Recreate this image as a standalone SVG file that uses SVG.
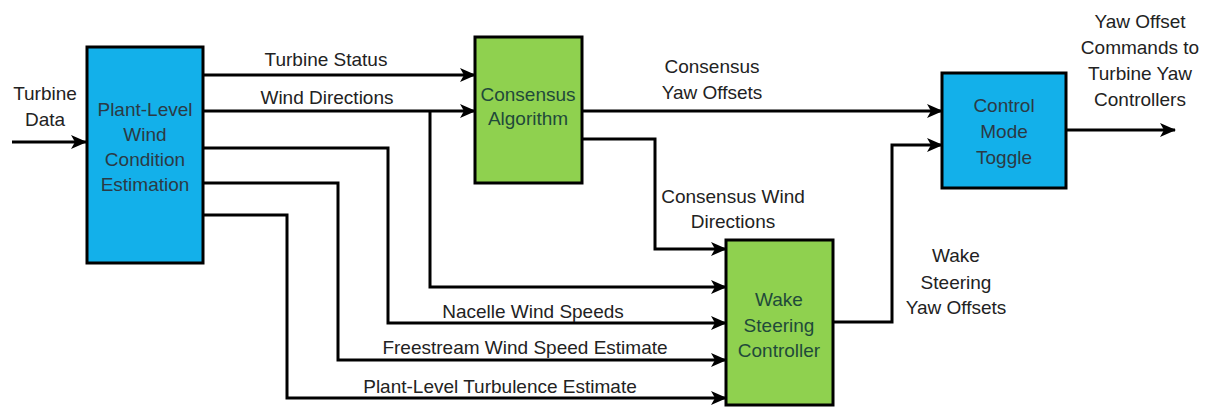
<svg xmlns="http://www.w3.org/2000/svg" width="1206" height="408" viewBox="0 0 1206 408">
<style>
.lbl{font-family:"Liberation Sans",Arial,sans-serif;font-size:19px;fill:#222;text-anchor:middle}
.nt{font-family:"Liberation Sans",Arial,sans-serif;font-size:19px;text-anchor:middle}
.blue{fill:#13b0ea;stroke:#000;stroke-width:3}
.green{fill:#8fd14f;stroke:#000;stroke-width:3}
.bt{fill:#2b3a45}
.gt{fill:#1f4a3a}
.c{fill:none;stroke:#000;stroke-width:3}
</style>
<defs>
<marker id="ah" markerUnits="userSpaceOnUse" viewBox="0 0 16 14" refX="15" refY="7" markerWidth="16" markerHeight="14" orient="auto">
<path d="M0,0 L16,7 L0,14 L4,7 z" fill="#000"/>
</marker>
</defs>
<rect width="1206" height="408" fill="#fff"/>
<g id="connectors">
<path class="c" d="M12,142 H86" marker-end="url(#ah)"/>
<path class="c" d="M203,75 H475" marker-end="url(#ah)"/>
<path class="c" d="M203,111 H475" marker-end="url(#ah)"/>
<path class="c" d="M430,111 V287 H726" marker-end="url(#ah)"/>
<path class="c" d="M203,148 H388 V323 H726" marker-end="url(#ah)"/>
<path class="c" d="M203,183 H338 V360 H726" marker-end="url(#ah)"/>
<path class="c" d="M203,215 H287 V398 H726" marker-end="url(#ah)"/>
<path class="c" d="M582,111 H942" marker-end="url(#ah)"/>
<path class="c" d="M582,139 H655 V249 H726" marker-end="url(#ah)"/>
<path class="c" d="M833,322 H892 V145 H942" marker-end="url(#ah)"/>
<path class="c" d="M1066,130 H1175" marker-end="url(#ah)"/>
</g>
<g id="labels">
<text class="lbl" x="45" y="100">Turbine</text>
<text class="lbl" x="45" y="126">Data</text>
<text class="lbl" x="326" y="66">Turbine Status</text>
<text class="lbl" x="327" y="104">Wind Directions</text>
<text class="lbl" x="712" y="73">Consensus</text>
<text class="lbl" x="712" y="99">Yaw Offsets</text>
<text class="lbl" x="733" y="203">Consensus Wind</text>
<text class="lbl" x="733" y="228">Directions</text>
<text class="lbl" x="956" y="262">Wake</text>
<text class="lbl" x="956" y="289">Steering</text>
<text class="lbl" x="956" y="314">Yaw Offsets</text>
<text class="lbl" x="1140" y="28">Yaw Offset</text>
<text class="lbl" x="1140" y="54">Commands to</text>
<text class="lbl" x="1140" y="80">Turbine Yaw</text>
<text class="lbl" x="1140" y="106">Controllers</text>
<text class="lbl" x="533" y="318">Nacelle Wind Speeds</text>
<text class="lbl" x="525" y="354">Freestream Wind Speed Estimate</text>
<text class="lbl" x="500" y="393">Plant-Level Turbulence Estimate</text>
</g>
<g id="plant">
<rect class="blue" x="87" y="47" width="116" height="216"/>
<text class="nt bt" x="145" y="116">Plant-Level</text>
<text class="nt bt" x="145" y="141">Wind</text>
<text class="nt bt" x="145" y="166">Condition</text>
<text class="nt bt" x="145" y="191">Estimation</text>
</g>
<g id="consensus">
<rect class="green" x="475" y="37" width="107" height="146"/>
<text class="nt gt" x="528" y="101">Consensus</text>
<text class="nt gt" x="528" y="125">Algorithm</text>
</g>
<g id="control">
<rect class="blue" x="942" y="73" width="124" height="115"/>
<text class="nt bt" x="1004" y="112">Control</text>
<text class="nt bt" x="1004" y="138">Mode</text>
<text class="nt bt" x="1004" y="164">Toggle</text>
</g>
<g id="wake">
<rect class="green" x="726" y="240" width="107" height="165"/>
<text class="nt gt" x="779" y="306">Wake</text>
<text class="nt gt" x="779" y="332">Steering</text>
<text class="nt gt" x="779" y="357">Controller</text>
</g>
</svg>
